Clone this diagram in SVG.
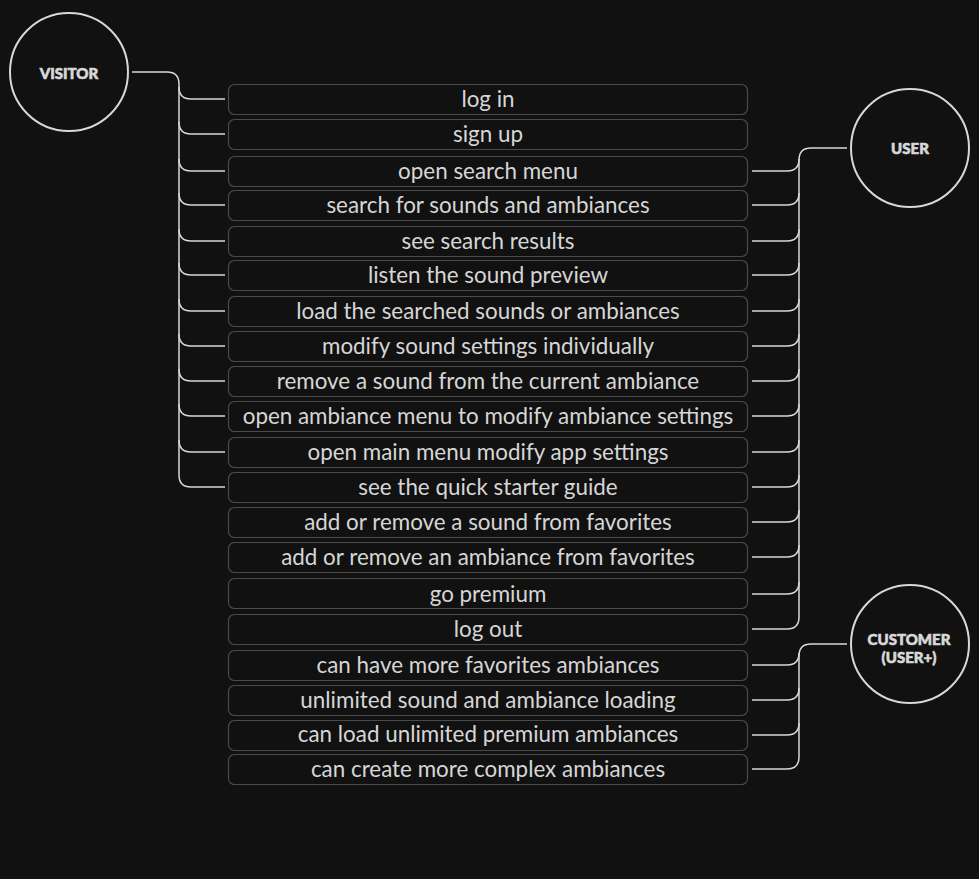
<svg xmlns="http://www.w3.org/2000/svg" width="979" height="879" viewBox="0 0 979 879">
<style>
.bg{fill:#111111}
.box rect{fill:#111111;stroke:#4a4a4a;stroke-width:1.2}
.box text{font-family:Lato,"Noto Sans",sans-serif;font-size:22.4px;fill:#d6d6d6;text-anchor:middle}
.actor circle{fill:#111111;stroke:#d8d8d8;stroke-width:2}
.actor text{font-family:Lato,"DejaVu Sans",sans-serif;font-weight:900;font-size:15px;fill:#d8d8d8;stroke:#d8d8d8;stroke-width:0.6;text-anchor:middle}
#connectors path{fill:none;stroke:#d8d8d8;stroke-width:1.5}
</style>
<rect class="bg" x="0" y="0" width="979" height="879"/>
<g id="connectors">
<path d="M132,72 H167 Q179,72 179,84 V475"/>
<path d="M179,87 Q179,99 191,99 H225"/>
<path d="M179,122 Q179,134 191,134 H225"/>
<path d="M179,159 Q179,171 191,171 H225"/>
<path d="M179,193 Q179,205 191,205 H225"/>
<path d="M179,229 Q179,241 191,241 H225"/>
<path d="M179,263 Q179,275 191,275 H225"/>
<path d="M179,299 Q179,311 191,311 H225"/>
<path d="M179,334 Q179,346 191,346 H225"/>
<path d="M179,369 Q179,381 191,381 H225"/>
<path d="M179,404 Q179,416 191,416 H225"/>
<path d="M179,440 Q179,452 191,452 H225"/>
<path d="M179,475 Q179,487 191,487 H225"/>
<path d="M847,148 H811 Q799,148 799,160 V617"/>
<path d="M752,171 H787 Q799,171 799,159"/>
<path d="M752,205 H787 Q799,205 799,193"/>
<path d="M752,241 H787 Q799,241 799,229"/>
<path d="M752,275 H787 Q799,275 799,263"/>
<path d="M752,311 H787 Q799,311 799,299"/>
<path d="M752,346 H787 Q799,346 799,334"/>
<path d="M752,381 H787 Q799,381 799,369"/>
<path d="M752,416 H787 Q799,416 799,404"/>
<path d="M752,452 H787 Q799,452 799,440"/>
<path d="M752,487 H787 Q799,487 799,475"/>
<path d="M752,522 H787 Q799,522 799,510"/>
<path d="M752,557 H787 Q799,557 799,545"/>
<path d="M752,594 H787 Q799,594 799,582"/>
<path d="M752,629 H787 Q799,629 799,617"/>
<path d="M847,644 H811 Q799,644 799,656 V757"/>
<path d="M752,665 H787 Q799,665 799,653"/>
<path d="M752,700 H787 Q799,700 799,688"/>
<path d="M752,735 H787 Q799,735 799,723"/>
<path d="M752,769 H787 Q799,769 799,757"/>
</g>
<g id="visitor" class="actor"><circle cx="69" cy="72" r="59"/><text x="69" y="79">VISITOR</text></g>
<g id="user" class="actor"><circle cx="910" cy="148" r="59"/><text x="910" y="153.5">USER</text></g>
<g id="customer" class="actor"><circle cx="910" cy="644" r="59"/><text x="909" y="645">CUSTOMER</text><text x="909" y="663">(USER+)</text></g>
<g id="uc1" class="box"><rect x="228.5" y="84.5" width="519" height="30" rx="6"/><text x="488" y="107">log in</text></g>
<g id="uc2" class="box"><rect x="228.5" y="119.5" width="519" height="30" rx="6"/><text x="488" y="142">sign up</text></g>
<g id="uc3" class="box"><rect x="228.5" y="156.5" width="519" height="30" rx="6"/><text x="488" y="179">open search menu</text></g>
<g id="uc4" class="box"><rect x="228.5" y="190.5" width="519" height="30" rx="6"/><text x="488" y="213">search for sounds and ambiances</text></g>
<g id="uc5" class="box"><rect x="228.5" y="226.5" width="519" height="30" rx="6"/><text x="488" y="249">see search results</text></g>
<g id="uc6" class="box"><rect x="228.5" y="260.5" width="519" height="30" rx="6"/><text x="488" y="283">listen the sound preview</text></g>
<g id="uc7" class="box"><rect x="228.5" y="296.5" width="519" height="30" rx="6"/><text x="488" y="319">load the searched sounds or ambiances</text></g>
<g id="uc8" class="box"><rect x="228.5" y="331.5" width="519" height="30" rx="6"/><text x="488" y="354">modify sound settings individually</text></g>
<g id="uc9" class="box"><rect x="228.5" y="366.5" width="519" height="30" rx="6"/><text x="488" y="389">remove a sound from the current ambiance</text></g>
<g id="uc10" class="box"><rect x="228.5" y="401.5" width="519" height="30" rx="6"/><text x="488" y="424">open ambiance menu to modify ambiance settings</text></g>
<g id="uc11" class="box"><rect x="228.5" y="437.5" width="519" height="30" rx="6"/><text x="488" y="460">open main menu modify app settings</text></g>
<g id="uc12" class="box"><rect x="228.5" y="472.5" width="519" height="30" rx="6"/><text x="488" y="495">see the quick starter guide</text></g>
<g id="uc13" class="box"><rect x="228.5" y="507.5" width="519" height="30" rx="6"/><text x="488" y="530">add or remove a sound from favorites</text></g>
<g id="uc14" class="box"><rect x="228.5" y="542.5" width="519" height="30" rx="6"/><text x="488" y="565">add or remove an ambiance from favorites</text></g>
<g id="uc15" class="box"><rect x="228.5" y="578.5" width="519" height="30" rx="6"/><text x="488" y="602">go premium</text></g>
<g id="uc16" class="box"><rect x="228.5" y="614.5" width="519" height="30" rx="6"/><text x="488" y="637">log out</text></g>
<g id="uc17" class="box"><rect x="228.5" y="650.5" width="519" height="30" rx="6"/><text x="488" y="673">can have more favorites ambiances</text></g>
<g id="uc18" class="box"><rect x="228.5" y="685.5" width="519" height="30" rx="6"/><text x="488" y="708">unlimited sound and ambiance loading</text></g>
<g id="uc19" class="box"><rect x="228.5" y="720.5" width="519" height="30" rx="6"/><text x="488" y="742">can load unlimited premium ambiances</text></g>
<g id="uc20" class="box"><rect x="228.5" y="754.5" width="519" height="30" rx="6"/><text x="488" y="777">can create more complex ambiances</text></g>
</svg>
